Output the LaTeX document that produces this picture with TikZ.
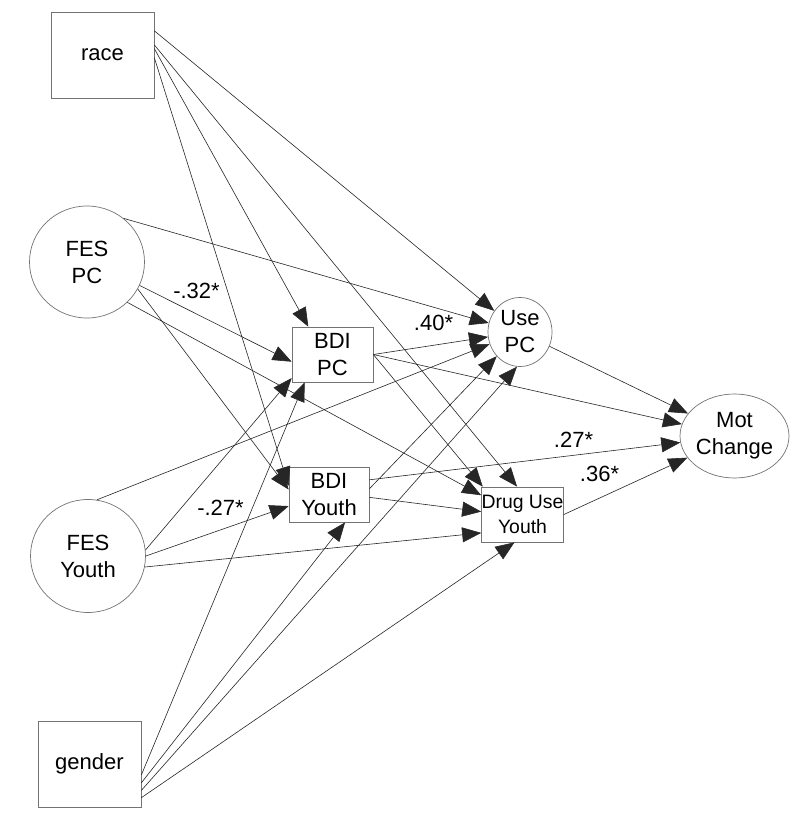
\documentclass[tikz,border=0pt]{standalone}
\usepackage{fontspec}
\setmainfont{Liberation Sans}
\usetikzlibrary{arrows.meta,shapes.geometric}
\begin{document}
\begin{tikzpicture}[x=1pt,y=-1pt,
  box/.style={draw=black!55, line width=0.7pt, rectangle, inner sep=0pt, align=center, font=\fontsize{22}{27}\selectfont},
  oval/.style={draw=black!55, line width=0.7pt, ellipse, inner sep=0pt, align=center, font=\fontsize{22}{27}\selectfont},
  conn/.style={draw=black!85, line width=0.6pt, -{Triangle[length=19pt,width=15pt]}},
  lab/.style={anchor=base, inner sep=0pt, font=\fontsize{22}{24}\selectfont}]
\useasboundingbox (0,0) rectangle (800,818);
\fill[white] (0,0) rectangle (800,818);
% nodes
\node[box, minimum width=103, minimum height=86] (race) at (102.5,55) {race};
\node[box, minimum width=103, minimum height=86] (gender) at (89.5,764) {gender};
\node[oval, minimum width=115, minimum height=112] (fespc) at (87,262) {FES\\PC};
\node[oval, minimum width=115, minimum height=113] (fesy) at (88,556) {FES\\Youth};
\node[box, minimum width=81, minimum height=55] (bdipc) at (332.5,354.5) {BDI\\PC};
\node[box, minimum width=80, minimum height=55] (bdiy) at (329,494.5) {BDI\\Youth};
\node[box, minimum width=81, minimum height=55, font=\fontsize{19.4}{25}\selectfont] (drug) at (522.5,514.5) {Drug Use\\Youth};
\node[oval, minimum width=64, minimum height=69] (usepc) at (520,332) {Use\\PC};
\node[oval, minimum width=95, minimum height=84] (mot) at (734.5,436) {Mot\\Change};
% race
\draw[conn] (race.25) -- (usepc);
\draw[conn] (race.11) -- (drug.101.3);
\draw[conn] (race.7.7) -- (bdipc.131.7);
\draw[conn] (race.357.8) -- (bdiy.168);
% FES PC
\draw[conn] (fespc.50.7) -- (usepc);
\draw[conn] (fespc.336) -- (bdipc.190.5);
\draw[conn] (fespc.332) -- (bdiy.173.6);
\draw[conn] (fespc.315) -- (drug.155.4);
% FES Youth
\draw[conn] (fesy.81) -- (usepc);
\draw[conn] (fesy.6) -- (bdipc.210.1);
\draw[conn] (fesy.0) -- (bdiy.196);
\draw[conn] (fesy.349) -- (drug.204.5);
% gender
\draw[conn] (gender.348) -- (bdipc.225);
\draw[conn] (gender.340) -- (bdiy.300.2);
\draw[conn] (gender.333) -- (usepc.265);
\draw[conn] (gender.327) -- (drug.254.7);
% BDI PC
\draw[conn] (bdipc.east) -- (usepc);
\draw[conn] (bdipc.east) -- (mot);
\draw[conn] (bdipc.east) -- (drug.145.8);
% BDI Youth
\draw[conn] (bdiy.20) -- (mot);
\draw[conn] (bdiy.8) -- (usepc);
\draw[conn] (bdiy.356) -- (drug.176.5);
% to Mot Change
\draw[conn] (usepc) -- (mot);
\draw[conn] (drug.east) -- (mot);
% labels
\node[lab] (l1) at (196.5,298) {-.32*};
\node[lab] (l2) at (433.5,330) {.40*};
\node[lab] (l3) at (573.5,447) {.27*};
\node[lab] (l4) at (599.5,481.5) {.36*};
\node[lab] (l5) at (220.5,515) {-.27*};
\end{tikzpicture}
\end{document}
